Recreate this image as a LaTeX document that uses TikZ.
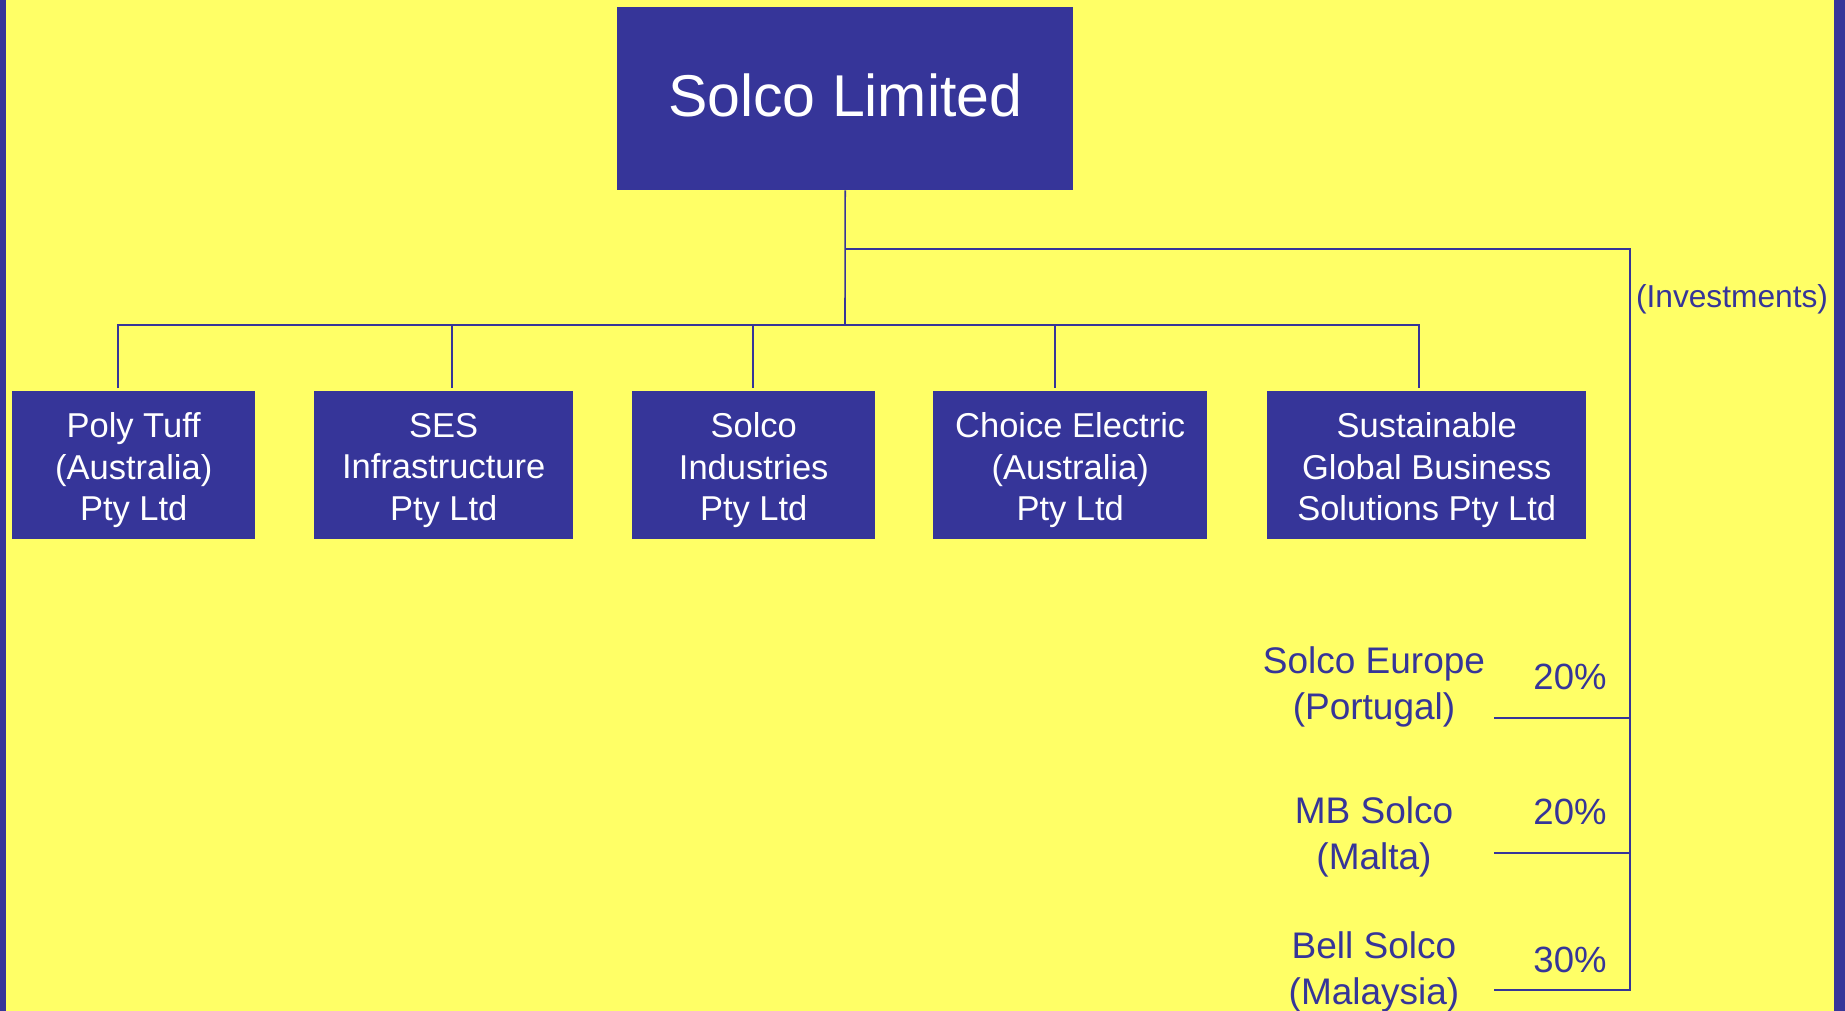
\documentclass[tikz,border=0pt]{standalone}
\usepackage{fontspec}
\setmainfont{Liberation Sans}
\definecolor{sblue}{RGB}{54,53,153}
\definecolor{syellow}{RGB}{255,255,102}
\begin{document}
\begin{tikzpicture}[x=1pt,y=-1pt,
  orgbox/.style={fill=sblue, inner sep=0pt, anchor=north west, minimum height=148pt},
  boxtxt/.style={text=white, inner sep=0pt, align=center, font=\fontsize{34.5}{41.5}\selectfont},
  conn/.style={draw=sblue, line width=1.6pt},
  lbl/.style={text=sblue, inner sep=0pt, align=center, font=\fontsize{37}{46}\selectfont},
  pct/.style={text=sblue, inner sep=0pt, font=\fontsize{36.5}{44}\selectfont}]
\fill[syellow] (0,0) rectangle (1845,1011);
\useasboundingbox (0,0) rectangle (1845,1011);
\fill[sblue] (0,0) rectangle (6,1011);
\fill[sblue] (1834,0) rectangle (1845,1011);
% top
\node[fill=sblue, text=white, inner sep=0pt, anchor=north west, minimum width=456pt,
  minimum height=183pt, text depth=8pt, font=\fontsize{59}{70}\selectfont] (top) at (617,7) {Solco Limited};
% subsidiaries
\node[orgbox, minimum width=243pt] (p1) at (12,391) {};
\node[orgbox, minimum width=259pt] (p2) at (314,391) {};
\node[orgbox, minimum width=243pt] (p3) at (632,391) {};
\node[orgbox, minimum width=274pt] (p4) at (933,391) {};
\node[orgbox, minimum width=319pt] (p5) at (1267,391) {};
\node[boxtxt] (t1) at ([yshift=-5pt]p1.center) {Poly Tuff\\(Australia)\\Pty Ltd};
\node[boxtxt] (t2) at ([yshift=-5pt]p2.center) {SES\\Infrastructure\\Pty Ltd};
\node[boxtxt] (t3) at ([yshift=-5pt]p3.center) {Solco\\Industries\\Pty Ltd};
\node[boxtxt] (t4) at ([yshift=-5pt]p4.center) {Choice Electric\\(Australia)\\Pty Ltd};
\node[boxtxt] (t5) at ([yshift=-5pt]p5.center) {Sustainable\\Global Business\\Solutions Pty Ltd};
% junction coordinates
\coordinate (hub) at (845,325);
\coordinate (inv) at (845,249);
\coordinate (b1) at (118,325);
\coordinate (b2) at (452,325);
\coordinate (b3) at (753,325);
\coordinate (b4) at (1055,325);
\coordinate (b5) at (1419,325);
\coordinate (ic) at (1630,249);
\coordinate (r1) at (1630,718);
\coordinate (r2) at (1630,853);
\coordinate (r3) at (1630,990);
\coordinate (l1) at (1494,718);
\coordinate (l2) at (1494,853);
\coordinate (l3) at (1494,990);
% connectors
\draw[conn] (top.south) -- (hub);
\draw[conn, shorten <=3pt, shorten >=3pt] (b1 |- p1.north) -- (b1) -- (b5) -- (b5 |- p5.north);
\draw[conn, shorten >=3pt] (b2) -- (b2 |- p2.north);
\draw[conn, shorten >=3pt] (b3) -- (b3 |- p3.north);
\draw[conn, shorten >=3pt] (b4) -- (b4 |- p4.north);
\draw[conn] (inv) -- (ic) -- (r3) -- (l3);
\draw[conn] (r1) -- (l1);
\draw[conn] (r2) -- (l2);
% investments
\node[text=sblue, inner sep=0pt, font=\fontsize{31.7}{38}\selectfont] (invlbl) at (1732,299) {(Investments)};
\node[lbl] (se) at (1374,687) {Solco Europe\\(Portugal)};
\node[lbl] (mb) at (1374,837) {MB Solco\\(Malta)};
\node[lbl] (bs) at (1374,972) {Bell Solco\\(Malaysia)};
\node[pct] (pc1) at (1570,677) {20\%};
\node[pct] (pc2) at (1570,812) {20\%};
\node[pct] (pc3) at (1570,960) {30\%};
\end{tikzpicture}
\end{document}
